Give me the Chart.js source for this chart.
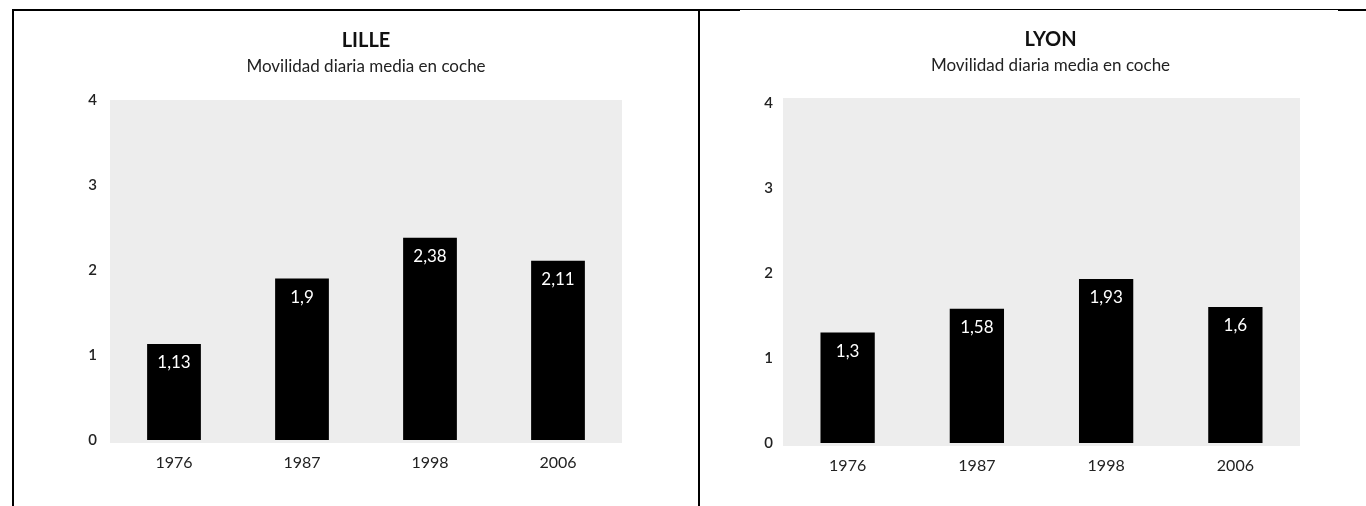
<!DOCTYPE html>
<html>
<head>
<meta charset="utf-8">
<title>Movilidad diaria media en coche</title>
<script src="https://cdn.jsdelivr.net/npm/chart.js@4.4.0/dist/chart.umd.min.js"></script>
<style>
  body { margin: 0; background: #fff; width: 1366px; height: 506px; position: relative; overflow: hidden; }
  .line { position: absolute; background: #000; }
  canvas { position: absolute; }
</style>
</head>
<body>
<!-- frame lines of the scanned page -->
<div class="line" style="left:12px;top:9px;width:728px;height:2px"></div>
<div class="line" style="left:740px;top:9px;width:598px;height:1px"></div>
<div class="line" style="left:1338px;top:9px;width:28px;height:2px"></div>
<div class="line" style="left:12px;top:9px;width:2px;height:497px"></div>
<div class="line" style="left:698px;top:9px;width:2px;height:497px"></div>

<canvas id="lilleChart" width="684" height="494" style="left:14px;top:12px"></canvas>
<canvas id="lyonChart" width="666" height="494" style="left:700px;top:12px"></canvas>

<script>
// data
const years = ["1976", "1987", "1998", "2006"];
const lilleValues = [1.13, 1.9, 2.38, 2.11];
const lyonValues = [1.3, 1.58, 1.93, 1.6];
const yTickValues = [0, 1, 2, 3, 4];
const subtitleText = "Movilidad diaria media en coche";

Chart.defaults.font.family = "Lato, 'Open Sans', sans-serif";
Chart.defaults.color = "#222";

// light grey panel behind the bars
const plotBackground = {
  id: "plotBackground",
  beforeDatasetsDraw(chart, args, opts) {
    const { ctx, chartArea: a } = chart;
    ctx.save();
    ctx.fillStyle = opts.color;
    ctx.fillRect(a.left, a.top - opts.extendTop, a.right - a.left, a.bottom - a.top + opts.extendTop + 3);
    ctx.restore();
  },
};

// titles in the scan are not quite centred over the plot, nudge them sideways
const titleShift = {
  id: "titleShift",
  afterLayout(chart, args, opts) {
    if (!opts.dx) return;
    chart.boxes.forEach((b) => {
      if (b.position === "top" && b.options && b.options.text) {
        b.left += opts.dx;
        b.right += opts.dx;
      }
    });
  },
};

// white value written inside the top of each bar (comma decimals)
const barValueLabels = {
  id: "barValueLabels",
  afterDatasetsDraw(chart) {
    const ctx = chart.ctx;
    const meta = chart.getDatasetMeta(0);
    const values = chart.data.datasets[0].data;
    ctx.save();
    ctx.fillStyle = "#fff";
    ctx.font = "17px Lato, 'Open Sans', sans-serif";
    ctx.textAlign = "center";
    ctx.textBaseline = "middle";
    meta.data.forEach((bar, i) => {
      ctx.fillText(String(values[i]).replace(".", ","), bar.x, bar.y + 19);
    });
    ctx.restore();
  },
};

function makeChart(canvasId, city, values, box) {
  const ctx = document.getElementById(canvasId).getContext("2d");
  return new Chart(ctx, {
    type: "bar",
    data: {
      labels: years,
      datasets: [
        {
          data: values,
          backgroundColor: "#000",
          barPercentage: 0.42,
          categoryPercentage: 1,
        },
      ],
    },
    plugins: [plotBackground, barValueLabels, titleShift],
    options: {
      responsive: false,
      animation: false,
      layout: { padding: { left: 0, right: box.padRight, top: 0, bottom: 0 } },
      plugins: {
        legend: { display: false },
        tooltip: { enabled: false },
        title: {
          display: true,
          text: city,
          fullSize: false,
          color: "#111",
          font: { size: 20, weight: "bold" },
          padding: { top: box.titleTop, bottom: 0 },
        },
        subtitle: {
          display: true,
          text: subtitleText,
          fullSize: false,
          color: "#222",
          font: { size: 17 },
          padding: { top: 3, bottom: box.subBottom },
        },
        plotBackground: { color: "#ededed", extendTop: box.bgExtra },
        titleShift: { dx: box.titleDx },
      },
      scales: {
        x: {
          grid: { display: false, drawTicks: false },
          border: { display: false },
          ticks: { font: { size: 16 }, padding: 13, color: "#222" },
          afterFit: (scale) => { scale.height = box.xHeight; },
        },
        y: {
          min: 0,
          max: 4,
          grid: { display: false, drawTicks: false },
          border: { display: false },
          afterBuildTicks: (scale) => { scale.ticks = yTickValues.map((v) => ({ value: v })); },
          ticks: { font: { size: 15, weight: "600" }, padding: box.yPad, color: "#222" },
          afterFit: (scale) => { scale.width = box.yWidth; },
        },
      },
    },
  });
}

makeChart("lilleChart", "LILLE", lilleValues, {
  padRight: 76, titleTop: 17, subBottom: 23.6, xHeight: 66, yWidth: 96, yPad: 13, bgExtra: 0, titleDx: 0,
});
makeChart("lyonChart", "LYON", lyonValues, {
  padRight: 66, titleTop: 16, subBottom: 27.6, xHeight: 63, yWidth: 83, yPad: 10, bgExtra: 5, titleDx: 9,
});
</script>
</body>
</html>
